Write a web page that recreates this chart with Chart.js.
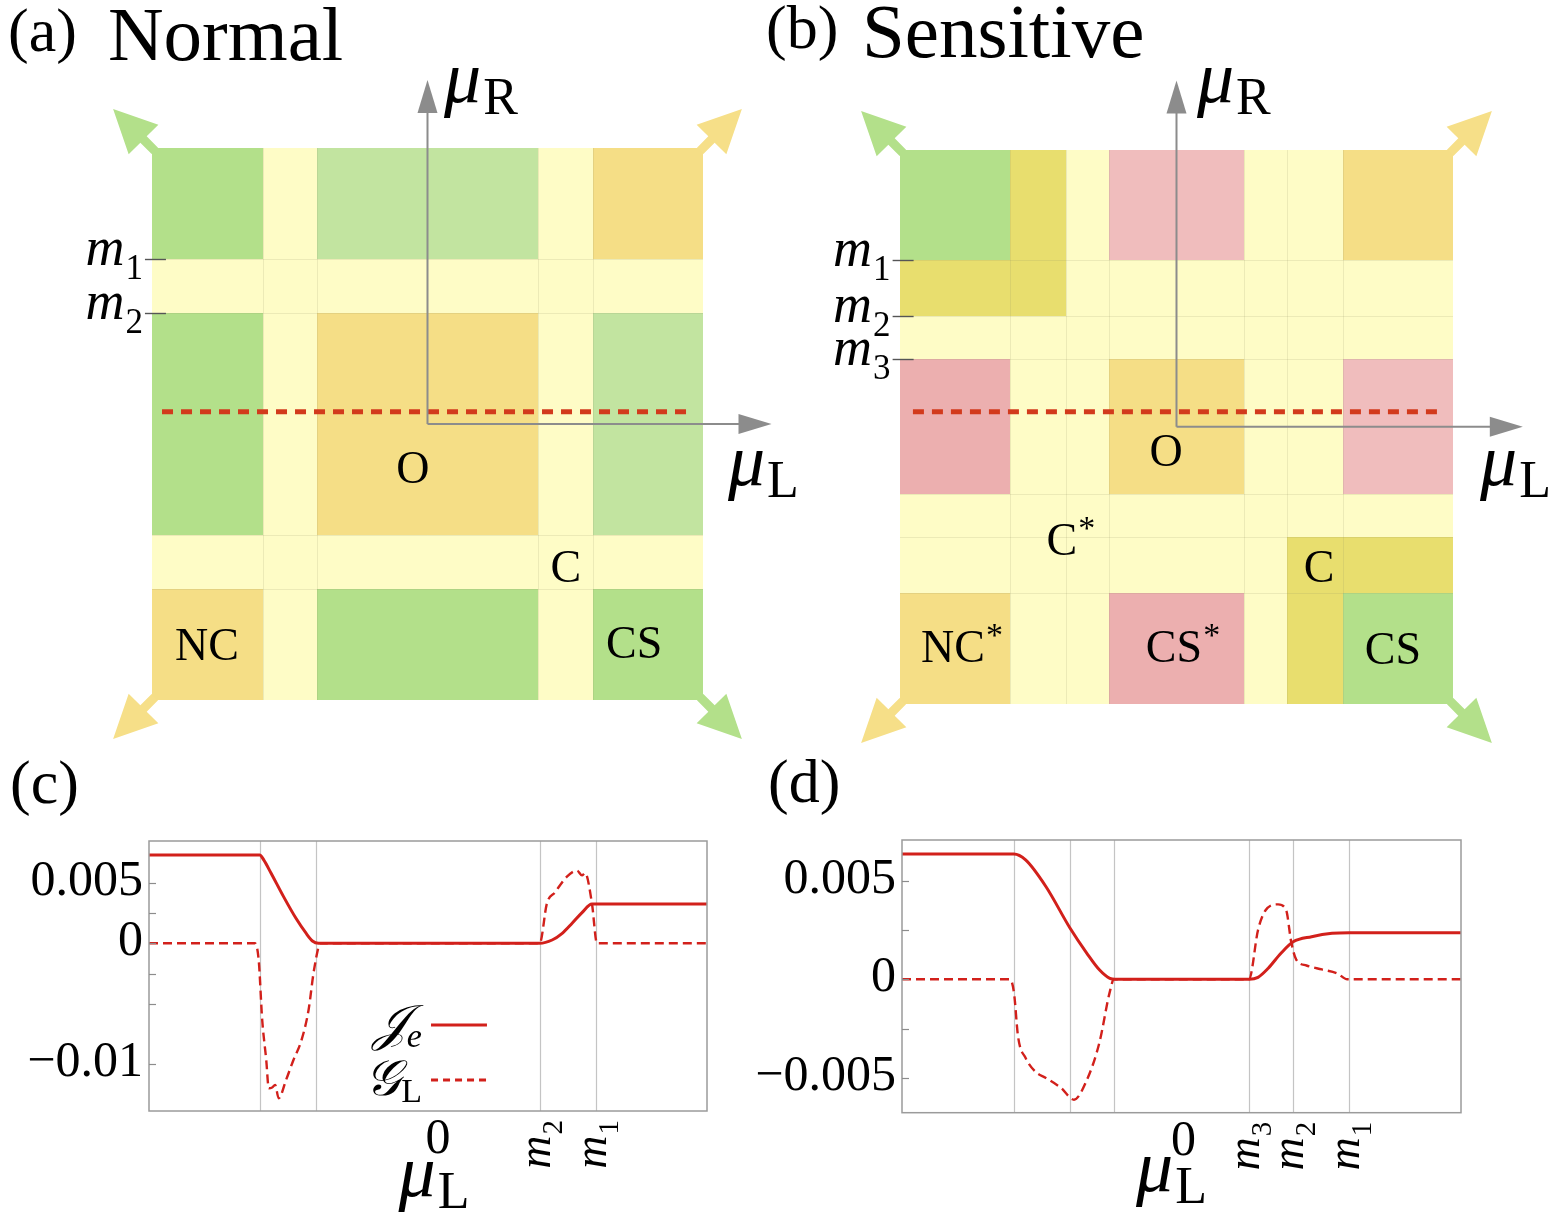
<!DOCTYPE html>
<html>
<head>
<meta charset="utf-8">
<script src="https://cdn.jsdelivr.net/npm/chart.js@4.4.1/dist/chart.umd.min.js"></script>
<style>
html,body{margin:0;padding:0;background:#fff;}
#page{position:relative;width:1561px;height:1217px;overflow:hidden;background:#fff;}
canvas{position:absolute;}
</style>
</head>
<body>
<div id="page">
<canvas id="cA" width="820" height="755" style="left:0px;top:0px"></canvas>
<canvas id="cB" width="821" height="755" style="left:740px;top:0px"></canvas>
<canvas id="cC" width="760" height="462" style="left:0px;top:755px"></canvas>
<canvas id="cD" width="826" height="462" style="left:735px;top:755px"></canvas>
</div>
<script>
// ======================= DATA =======================
// (a) Normal — phase boundaries in units of m1
const aMasses = [1.00, 0.67];            // m1, m2
const aEdge = 1.67;
const aRegions = ['G P L P O', 'P P P P P', 'G P O P L', 'P P P P P', 'O P G P G'];
const aCutY = 0.075;
const aCutX = [-1.609, 1.591];
const aAxisTip = 2.085;
const aLabels = ['O', 'C', 'NC', 'CS'];
const aLabelStars = ['', '', '', ''];
const aLabelX = [-0.088, 0.839, -1.336, 1.252];
const aLabelY = [-0.285, -0.885, -1.358, -1.345];

// (b) Sensitive
const bMasses = [1.00, 0.664, 0.405];    // m1, m2, m3
const bEdge = 1.663;
const bRegions = ['G Y P K P P O', 'Y Y P P P P P', 'P P P P P P P', 'k P P O P P K',
                  'P P P P P P P', 'P P P P P Y Y', 'O P P k P Y G'];
const bCutY = 0.09;
const bCutX = [-1.583, 1.594];
const bAxisTip = 2.08;
const bLabels = ['O', 'C', 'C', 'NC', 'CS', 'CS'];
const bLabelStars = ['', '*', '', '*', '*', ''];
const bLabelX = [-0.063, -0.688, 0.856, -1.342, -0.015, 1.300];
const bLabelY = [-0.164, -0.698, -0.860, -1.341, -1.341, -1.353];

// (c) Normal: currents vs mu_L
const cMasses = [1.0, 0.667];
const cXRange = [-1.661, 1.661];
const cYRange = [-0.01384, 0.00844];
const cYTicks = [0.005, 0.0025, 0, -0.0025, -0.005, -0.01];
const cYLabelVals = [0.005, 0, -0.01];
const cYLabelText = ['0.005', '0', '\u22120.01'];
const cJeX = [-1.661, -1.002, -0.978, -0.934, -0.860, -0.786, -0.726, -0.688, -0.652, 0.665, 0.739, 0.799, 0.858, 0.917, 0.976, 1.661];
const cJeY = [0.00729, 0.00729, 0.00688, 0.00578, 0.00385, 0.00206, 0.00083, 0.00019, 0, 0, 0.00027, 0.00082, 0.00165, 0.00253, 0.00324, 0.00324];
const cGX = [-1.661, -1.031, -1.008, -0.987, -0.963, -0.948, -0.928, -0.910, -0.889, -0.845, -0.801, -0.756, -0.711, -0.682, -0.652, -0.645, 0.665, 0.708, 0.756, 0.827, 0.887, 0.917, 0.935, 0.976, 1.006, 1.661];
const cGY = [0, 0, -0.00138, -0.00633, -0.00963, -0.01196, -0.0119, -0.01169, -0.01279, -0.01128, -0.00963, -0.00812, -0.0055, -0.0025, -0.0003, 0, 0, 0.0033, 0.0042, 0.0055, 0.0060, 0.0056, 0.0058, 0.0033, 0, 0];

// (d) Sensitive: currents vs mu_L
const dMasses = [1.0, 0.666, 0.403];
const dXRange = [-1.669, 1.669];
const dYRange = [-0.00676, 0.00706];
const dYTicks = [0.005, 0.0025, 0, -0.0025, -0.005];
const dYLabelVals = [0.005, 0, -0.005];
const dYLabelText = ['0.005', '0', '\u22120.005'];
const dJeX = [-1.669, -1.001, -0.931, -0.809, -0.666, -0.565, -0.489, -0.428, -0.397, 0.405, 0.457, 0.518, 0.594, 0.667, 0.777, 0.899, 1.002, 1.669];
const dJeY = [0.00635, 0.00635, 0.00605, 0.00469, 0.0026, 0.00132, 0.00047, 0.00005, 0, 0, 0.0001, 0.00056, 0.00132, 0.0019, 0.00216, 0.00233, 0.00236, 0.00236];
const dGX = [-1.669, -1.024, -1.000, -0.976, -0.93, -0.87, -0.81, -0.72, -0.642, -0.565, -0.49, -0.43, -0.403, 0.403, 0.457, 0.502, 0.577, 0.625, 0.655, 0.685, 0.746, 0.838, 0.93, 0.99, 1.669];
const dGY = [0, 0, -0.0007, -0.0029, -0.0040, -0.0047, -0.0050, -0.0055, -0.0061, -0.0051, -0.0032, -0.0007, 0, 0, 0.0025, 0.0035, 0.0038, 0.0035, 0.0019, 0.0010, 0.0007, 0.0005, 0.0003, 0, 0];

// legend of (c)
const legendNames = [['\uD835\uDCA5', 'e'], ['\uD835\uDCA2', 'L']];
const legendY = [-0.00674, -0.01128];
const legendX = [0.018, 0.351];
const legendTextX = -0.036;

// ======================= STYLE =======================
const SERIF = '"Liberation Serif","DejaVu Serif",serif';
const SCRIPT = '"DejaVu Serif","DejaVu Sans","Noto Sans",serif';
const RED = '#d2201b', CUT = '#d23a1c', GRAY = '#8c8c8c';
const PAL = {G: '#b3e08a', L: '#c2e4a0', O: '#f5de86', P: '#fefcc6', Y: '#e8de6e', K: '#f0bdbd', k: '#ecafaf'};
const CORNER_COL = ['#b3e08a', '#f6df88', '#f6df88', '#b3e08a']; // TL, TR, BL, BR
const F = (sz, it, fam) => (it ? 'italic ' : '') + sz + 'px ' + (fam || SERIF);

function symBounds(ms, edge) {
  const s = ms.slice().sort((p, q) => p - q);
  return [-edge].concat(s.slice().reverse().map(v => -v), s, [edge]);
}
function rich(ctx, parts, x, y, align) {
  let w = 0;
  const ws = parts.map(p => { ctx.font = p.f; const m = ctx.measureText(p.t).width + (p.k || 0); w += m; return m; });
  let cx = align === 'center' ? x - w / 2 : align === 'right' ? x - w : x;
  ctx.textAlign = 'left';
  parts.forEach((p, i) => { ctx.font = p.f; ctx.fillText(p.t, cx, y + (p.dy || 0)); cx += ws[i]; });
  return w;
}
function mParts(i, sz) { sz = sz || 54; return [{t: 'm', f: F(sz, true), k: 1}, {t: String(i), f: F(Math.round(sz * 0.64)), dy: Math.round(sz * 0.25)}]; }
function muParts(sub, sz) { return [{t: '\u03BC', f: F(sz, true), k: 2}, {t: sub, f: F(Math.round(sz * 0.7)), dy: Math.round(sz * 0.16)}]; }
function line(ctx, x0, y0, x1, y1) { ctx.beginPath(); ctx.moveTo(x0, y0); ctx.lineTo(x1, y1); ctx.stroke(); }

function cornerArrow(ctx, cx, cy, dx, dy, col) {
  const u = Math.SQRT1_2, ux = dx * u, uy = dy * u, px = -uy, py = ux;
  const tip = 55, base = 12, hw = 21, sw = 4.5, s0 = -4;
  ctx.fillStyle = col; ctx.beginPath();
  ctx.moveTo(cx + ux * s0 + px * sw, cy + uy * s0 + py * sw);
  ctx.lineTo(cx + ux * base + px * sw, cy + uy * base + py * sw);
  ctx.lineTo(cx + ux * base + px * hw, cy + uy * base + py * hw);
  ctx.lineTo(cx + ux * tip, cy + uy * tip);
  ctx.lineTo(cx + ux * base - px * hw, cy + uy * base - py * hw);
  ctx.lineTo(cx + ux * base - px * sw, cy + uy * base - py * sw);
  ctx.lineTo(cx + ux * s0 - px * sw, cy + uy * s0 - py * sw);
  ctx.closePath(); ctx.fill();
}
function axisArrow(ctx, x0, y0, x1, y1) {
  const L = Math.hypot(x1 - x0, y1 - y0), ux = (x1 - x0) / L, uy = (y1 - y0) / L, hl = 33, hw = 10;
  ctx.strokeStyle = GRAY; ctx.lineWidth = 2;
  line(ctx, x0, y0, x1 - ux * hl * 0.7, y1 - uy * hl * 0.7);
  ctx.fillStyle = GRAY; ctx.beginPath();
  ctx.moveTo(x1, y1);
  ctx.lineTo(x1 - ux * hl - uy * hw, y1 - uy * hl + ux * hw);
  ctx.lineTo(x1 - ux * hl + uy * hw, y1 - uy * hl - ux * hw);
  ctx.closePath(); ctx.fill();
}

// ======================= PHASE-DIAGRAM PANELS =======================
function phasePlugin(P) {
  return {
    id: 'phase',
    beforeDatasetsDraw(chart) {
      const ctx = chart.ctx, X = chart.scales.x, Y = chart.scales.y;
      const B = symBounds(P.masses, P.edge), n = B.length - 1;
      const xp = B.map(v => Math.round(X.getPixelForValue(v)));
      const yp = B.map(v => Math.round(Y.getPixelForValue(v)));
      ctx.save();
      for (let r = 0; r < n; r++) {
        const codes = P.regions[r].split(' ');
        for (let c = 0; c < n; c++) {
          const y0 = yp[n - r], y1 = yp[n - r - 1];
          ctx.fillStyle = PAL[codes[c]];
          ctx.fillRect(xp[c], y0, xp[c + 1] - xp[c], y1 - y0);
        }
      }
      ctx.strokeStyle = 'rgba(140,140,100,0.16)'; ctx.lineWidth = 1;
      for (let i = 1; i < n; i++) {
        line(ctx, xp[i] + 0.5, yp[n], xp[i] + 0.5, yp[0]);
        line(ctx, xp[0], yp[i] + 0.5, xp[n], yp[i] + 0.5);
      }
      cornerArrow(ctx, xp[0], yp[n], -1, -1, CORNER_COL[0]);
      cornerArrow(ctx, xp[n], yp[n], 1, -1, CORNER_COL[1]);
      cornerArrow(ctx, xp[0], yp[0], -1, 1, CORNER_COL[2]);
      cornerArrow(ctx, xp[n], yp[0], 1, 1, CORNER_COL[3]);
      ctx.restore();
    },
    afterDatasetsDraw(chart) {
      const ctx = chart.ctx, X = chart.scales.x, Y = chart.scales.y;
      const B = symBounds(P.masses, P.edge);
      const gl = X.getPixelForValue(B[0]);
      ctx.save();
      // axes
      const ox = X.getPixelForValue(0), oy = Y.getPixelForValue(0);
      axisArrow(ctx, ox, oy, ox, Y.getPixelForValue(P.axisTip));
      axisArrow(ctx, ox, oy, X.getPixelForValue(P.axisTip), oy);
      // mass ticks on the left edge
      ctx.strokeStyle = '#555'; ctx.lineWidth = 1.4; ctx.fillStyle = '#000';
      P.masses.forEach((m, i) => {
        const py = Math.round(Y.getPixelForValue(m)) + 0.5;
        line(ctx, gl - 7, py, gl + 14, py);
        ctx.textBaseline = 'alphabetic';
        rich(ctx, mParts(i + 1), gl - 9, py + 5, 'right');
      });
      // region labels
      ctx.textBaseline = 'middle';
      P.labels.forEach((t, i) => {
        const px = X.getPixelForValue(P.labelX[i]), py = Y.getPixelForValue(P.labelY[i]);
        ctx.font = F(46); ctx.textAlign = 'center'; ctx.fillText(t, px, py);
        if (P.stars[i]) {
          const w = ctx.measureText(t).width;
          ctx.font = F(34); ctx.textAlign = 'left'; ctx.fillText('*', px + w / 2 + 1, py - 13);
        }
      });
      // axis names
      ctx.textBaseline = 'alphabetic';
      rich(ctx, muParts('R', 74), X.getPixelForValue(P.muRPos[0]), Y.getPixelForValue(P.muRPos[1]), 'left');
      rich(ctx, muParts('L', 74), X.getPixelForValue(P.muLPos[0]), Y.getPixelForValue(P.muLPos[1]), 'left');
      // title
      ctx.font = F(62); ctx.textAlign = 'left'; ctx.fillText(P.tag, P.tagPos[0], P.tagPos[1]);
      ctx.font = F(77); ctx.fillText(P.title, P.titlePos[0], P.titlePos[1]);
      ctx.restore();
    }
  };
}

function phaseChart(id, G, P) {
  const cv = document.getElementById(id), W = cv.width, H = cv.height;
  return new Chart(cv, {
    type: 'line',
    data: {datasets: [{
      data: P.cutX.map(v => ({x: v, y: P.cutY})),
      borderColor: CUT, borderWidth: 5, borderDash: [11, 8], borderCapStyle: 'butt',
      pointRadius: 0, fill: false
    }]},
    options: {
      responsive: false, animation: false, events: [],
      layout: {padding: 0},
      plugins: {legend: {display: false}, tooltip: {enabled: false}},
      scales: {
        x: {type: 'linear', display: false, min: -G.x0 / G.s, max: (W - G.x0) / G.s},
        y: {type: 'linear', display: false, min: (G.y0 - H) / G.s, max: G.y0 / G.s}
      }
    },
    plugins: [phasePlugin(P)]
  });
}

phaseChart('cA', {x0: 427.5, y0: 424, s: 165}, {
  masses: aMasses, edge: aEdge, regions: aRegions, cutX: aCutX, cutY: aCutY, axisTip: aAxisTip,
  labels: aLabels, stars: aLabelStars, labelX: aLabelX, labelY: aLabelY,
  muRPos: [0.10, 1.952], muLPos: [1.821, -0.37],
  tag: '(a)', tagPos: [8, 51], title: 'Normal', titlePos: [108, 60]
});
phaseChart('cB', {x0: 436.5, y0: 426.75, s: 166.5}, {
  masses: bMasses, edge: bEdge, regions: bRegions, cutX: bCutX, cutY: bCutY, axisTip: bAxisTip,
  labels: bLabels, stars: bLabelStars, labelX: bLabelX, labelY: bLabelY,
  muRPos: [0.123, 1.950], muLPos: [1.823, -0.35],
  tag: '(b)', tagPos: [26, 48], title: 'Sensitive', titlePos: [122, 57]
});

// ======================= CURVE PANELS =======================
function curvePlugin(P) {
  return {
    id: 'curves',
    beforeDatasetsDraw(chart) {
      const ctx = chart.ctx, a = chart.chartArea, X = chart.scales.x;
      ctx.save(); ctx.strokeStyle = '#c4c4c4'; ctx.lineWidth = 1.2;
      P.masses.forEach(m => [-m, m].forEach(v => {
        const px = Math.round(X.getPixelForValue(v)) + 0.5;
        line(ctx, px, a.top, px, a.bottom);
      }));
      ctx.restore();
    },
    afterDatasetsDraw(chart) {
      const ctx = chart.ctx, a = chart.chartArea, X = chart.scales.x, Y = chart.scales.y;
      ctx.save();
      ctx.strokeStyle = '#9b9b9b'; ctx.lineWidth = 1.5;
      ctx.strokeRect(a.left, a.top, a.right - a.left, a.bottom - a.top);
      ctx.strokeStyle = '#8c8c8c'; ctx.lineWidth = 1.2;
      P.yTicks.forEach(v => { const py = Math.round(Y.getPixelForValue(v)) + 0.5; line(ctx, a.left, py, a.left + 7, py); });
      ctx.fillStyle = '#000'; ctx.textBaseline = 'alphabetic';
      ctx.font = F(50); ctx.textAlign = 'right';
      P.yLabelVals.forEach((v, i) => ctx.fillText(P.yLabelText[i], a.left - 6, Y.getPixelForValue(v) + 12));
      // x tick labels
      const x0 = X.getPixelForValue(0);
      ctx.textAlign = 'center'; ctx.font = F(50);
      ctx.fillText('0', x0 + P.zeroDx, a.bottom + 42);
      rich(ctx, muParts('L', 74), x0 + P.muDx, a.bottom + P.muDy, 'center');
      P.masses.forEach((m, i) => {
        const px = X.getPixelForValue(m);
        ctx.save(); ctx.translate(px, a.bottom + 9); ctx.rotate(-Math.PI / 2);
        ctx.textBaseline = 'alphabetic';
        rich(ctx, mParts(i + 1, 46), 0, 10, 'right');
        ctx.restore();
      });
      // legend
      if (P.legend) {
        const L = P.legend;
        const lx0 = X.getPixelForValue(L.x[0]), lx1 = X.getPixelForValue(L.x[1]), tx = X.getPixelForValue(L.textX);
        L.names.forEach((nm, i) => {
          const py = Y.getPixelForValue(L.y[i]);
          ctx.strokeStyle = RED; ctx.lineWidth = 3;
          ctx.setLineDash(i === 0 ? [] : [7, 5]);
          line(ctx, lx0, py, lx1, py);
          ctx.setLineDash([]);
          ctx.fillStyle = '#000';
          rich(ctx, [{t: nm[0], f: F(50, true, SCRIPT)}, {t: nm[1], f: F(34, i === 0), dy: 7}], tx, py + 15, 'right');
        });
      }
      // panel tag
      ctx.font = F(62); ctx.textAlign = 'left'; ctx.fillStyle = '#000';
      ctx.fillText(P.tag, P.tagPos[0], P.tagPos[1]);
      ctx.restore();
    }
  };
}

function curveChart(id, pad, P) {
  const cv = document.getElementById(id);
  const pts = (xs, ys) => xs.map((x, i) => ({x: x, y: ys[i]}));
  return new Chart(cv, {
    type: 'line',
    data: {datasets: [
      {label: 'Je', data: pts(P.jx, P.jy), borderColor: RED, borderWidth: 3, pointRadius: 0, fill: false, cubicInterpolationMode: 'monotone'},
      {label: 'GL', data: pts(P.gx, P.gy), borderColor: RED, borderWidth: 2.4, borderDash: [9, 5], pointRadius: 0, fill: false, cubicInterpolationMode: 'monotone'}
    ]},
    options: {
      responsive: false, animation: false, events: [],
      layout: {padding: pad},
      plugins: {legend: {display: false}, tooltip: {enabled: false}},
      scales: {
        x: {type: 'linear', display: false, min: P.xRange[0], max: P.xRange[1]},
        y: {type: 'linear', display: false, min: P.yRange[0], max: P.yRange[1]}
      }
    },
    plugins: [curvePlugin(P)]
  });
}

curveChart('cC', {left: 149, right: 53, top: 86, bottom: 106}, {
  masses: cMasses, xRange: cXRange, yRange: cYRange, yTicks: cYTicks, yLabelVals: cYLabelVals, yLabelText: cYLabelText,
  jx: cJeX, jy: cJeY, gx: cGX, gy: cGY, zeroDx: 10, muDx: 6, muDy: 85,
  legend: {names: legendNames, y: legendY, x: legendX, textX: legendTextX},
  tag: '(c)', tagPos: [10, 48]
});
curveChart('cD', {left: 167, right: 100, top: 85, bottom: 104.3}, {
  masses: dMasses, xRange: dXRange, yRange: dYRange, yTicks: dYTicks, yLabelVals: dYLabelVals, yLabelText: dYLabelText,
  jx: dJeX, jy: dJeY, gx: dGX, gy: dGY, zeroDx: 2, muDx: -10, muDy: 78,
  legend: null,
  tag: '(d)', tagPos: [33, 47]
});
</script>
</body>
</html>
